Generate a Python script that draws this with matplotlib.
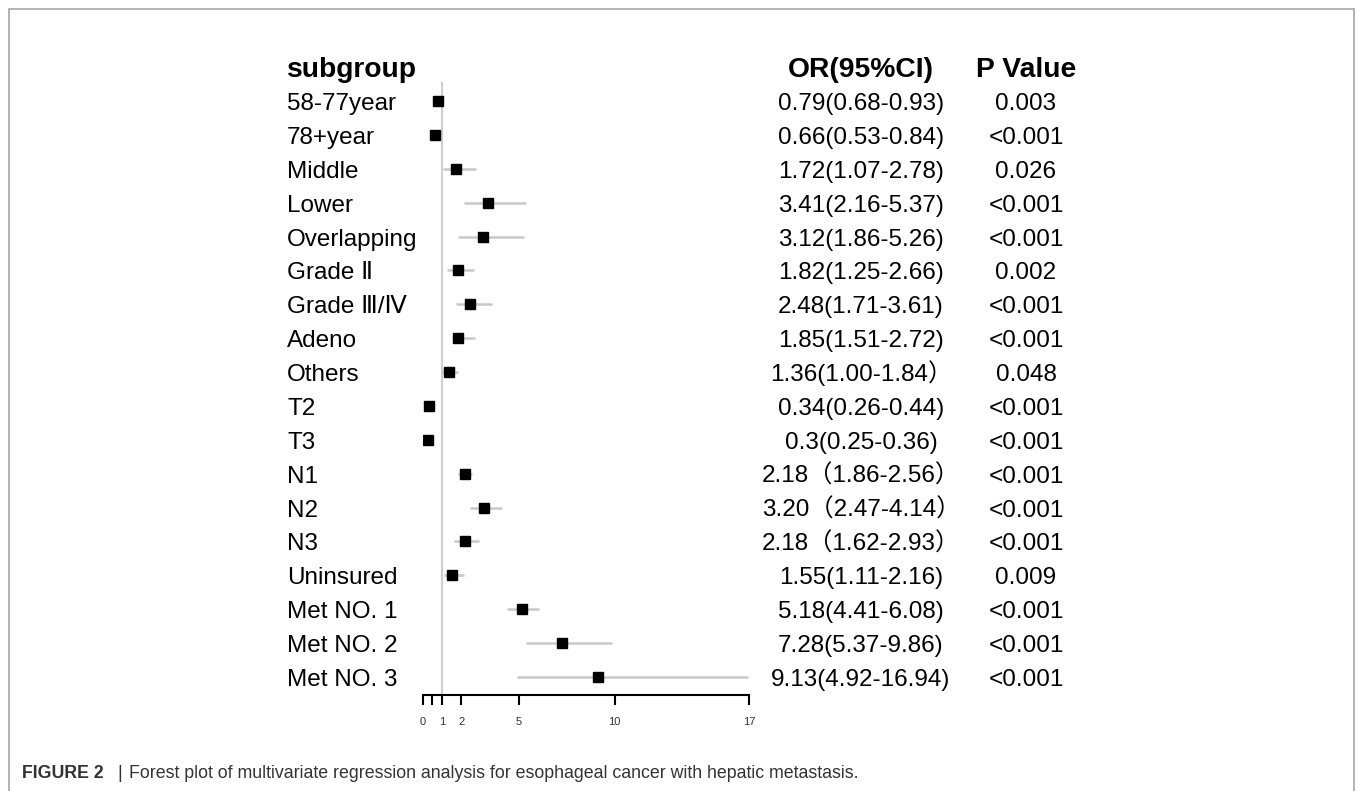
import matplotlib
matplotlib.use('AGG')
import matplotlib.pyplot as plt
import matplotlib.transforms as mtransforms
from matplotlib.patches import Rectangle

subgroups = ["58-77year", "78+year", "Middle", "Lower", "Overlapping", "Grade \u2161",
             "Grade \u2162/\u2163", "Adeno", "Others", "T2", "T3", "N1", "N2", "N3",
             "Uninsured", "Met NO. 1", "Met NO. 2", "Met NO. 3"]
or_vals = [0.79, 0.66, 1.72, 3.41, 3.12, 1.82, 2.48, 1.85, 1.36, 0.34, 0.30,
           2.18, 3.20, 2.18, 1.55, 5.18, 7.28, 9.13]
ci_low = [0.68, 0.53, 1.07, 2.16, 1.86, 1.25, 1.71, 1.51, 1.00, 0.26, 0.25,
          1.86, 2.47, 1.62, 1.11, 4.41, 5.37, 4.92]
ci_high = [0.93, 0.84, 2.78, 5.37, 5.26, 2.66, 3.61, 2.72, 1.84, 0.44, 0.36,
           2.56, 4.14, 2.93, 2.16, 6.08, 9.86, 16.94]
or_text = ["0.79(0.68-0.93)", "0.66(0.53-0.84)", "1.72(1.07-2.78)", "3.41(2.16-5.37)",
           "3.12(1.86-5.26)", "1.82(1.25-2.66)", "2.48(1.71-3.61)", "1.85(1.51-2.72)",
           "1.36(1.00-1.84\uff09", "0.34(0.26-0.44)", "0.3(0.25-0.36)",
           "2.18\uff081.86-2.56\uff09", "3.20\uff082.47-4.14\uff09", "2.18\uff081.62-2.93\uff09",
           "1.55(1.11-2.16)", "5.18(4.41-6.08)", "7.28(5.37-9.86)", "9.13(4.92-16.94)"]
p_text = ["0.003", "<0.001", "0.026", "<0.001", "<0.001", "0.002", "<0.001", "<0.001",
          "0.048", "<0.001", "<0.001", "<0.001", "<0.001", "<0.001", "0.009", "<0.001",
          "<0.001", "<0.001"]
xticks = [0, 0.5, 1, 2, 5, 10, 17]
xtick_labels = ["0", "", "1", "2", "5", "10", "17"]

FAM = ['Liberation Sans', 'Noto Sans CJK SC', 'DejaVu Sans']
LAB_FAM = ['Liberation Sans', 'DejaVu Sans']
plt.rcParams['font.family'] = FAM

W, H = 1355, 791
fig = plt.figure(figsize=(W / 100, H / 100), dpi=100)

# forest axes: x 0..17 spans px 422.7..749, rows from y=101 step 33.9
left, right = 422.7, 749.0
top, bottom = 82.0, 695.0
ax = fig.add_axes([left / W, 1 - bottom / H, (right - left) / W, (bottom - top) / H])
n = len(subgroups)
step = 33.9
ax.set_xlim(0, 17)
ax.set_ylim((n - 1) + (bottom - 677) / step, -(101 - top) / step)

rows = list(range(n))
ax.axvline(1, color='#cfcfcf', lw=1.5, zorder=1)
ax.hlines(rows, ci_low, ci_high, color='#c8c8c8', lw=1.8, zorder=2)
ax.plot(or_vals, rows, 's', color='black', markersize=7, zorder=3)

for s in ['top', 'right', 'left']:
    ax.spines[s].set_visible(False)
ax.spines['bottom'].set_linewidth(1.5)
ax.set_yticks([])
ax.set_xticks(xticks)
ax.set_xticklabels(xtick_labels, fontsize=8, color='#333333')
ax.tick_params(axis='x', direction='out', length=7, width=1.5, pad=9)
ax.patch.set_alpha(0)

trans = mtransforms.blended_transform_factory(fig.transFigure, ax.transData)
base = 9.0 / step  # baseline sits ~9px below row centre
for i in rows:
    y = i + base
    fig.text(287 / W, y, subgroups[i], transform=trans, fontsize=17.5, ha='left',
             va='baseline', family=LAB_FAM)
    fig.text(861 / W, y, or_text[i], transform=trans, fontsize=17.5, ha='center', va='baseline')
    fig.text(1026 / W, y, p_text[i], transform=trans, fontsize=17.5, ha='center', va='baseline')

hy = -1 + 10.0 / step
fig.text(287 / W, hy, "subgroup", transform=trans, fontsize=20.3, fontweight='bold', ha='left', va='baseline')
fig.text(861 / W, hy, "OR(95%CI)", transform=trans, fontsize=20.3, fontweight='bold', ha='center', va='baseline')
fig.text(1026 / W, hy, "P Value", transform=trans, fontsize=20.3, fontweight='bold', ha='center', va='baseline')

# outer frame, open at the bottom
fig.add_artist(Rectangle((9 / W, -0.1), (1353.5 - 9) / W, 1.1 - 8.5 / H, transform=fig.transFigure,
                         fill=False, edgecolor='#a6a6a6', lw=1.2))

cap_y = 1 - 773 / H
fig.text(22 / W, cap_y, "FIGURE 2", fontsize=12.8, fontweight='bold', color='#333333', va='center')
fig.text(117 / W, cap_y, "|", fontsize=12.8, color='#333333', va='center')
fig.text(129 / W, cap_y, "Forest plot of multivariate regression analysis for esophageal cancer with hepatic metastasis.",
         fontsize=12.8, color='#333333', va='center')

fig.savefig('out.png', dpi=100)
